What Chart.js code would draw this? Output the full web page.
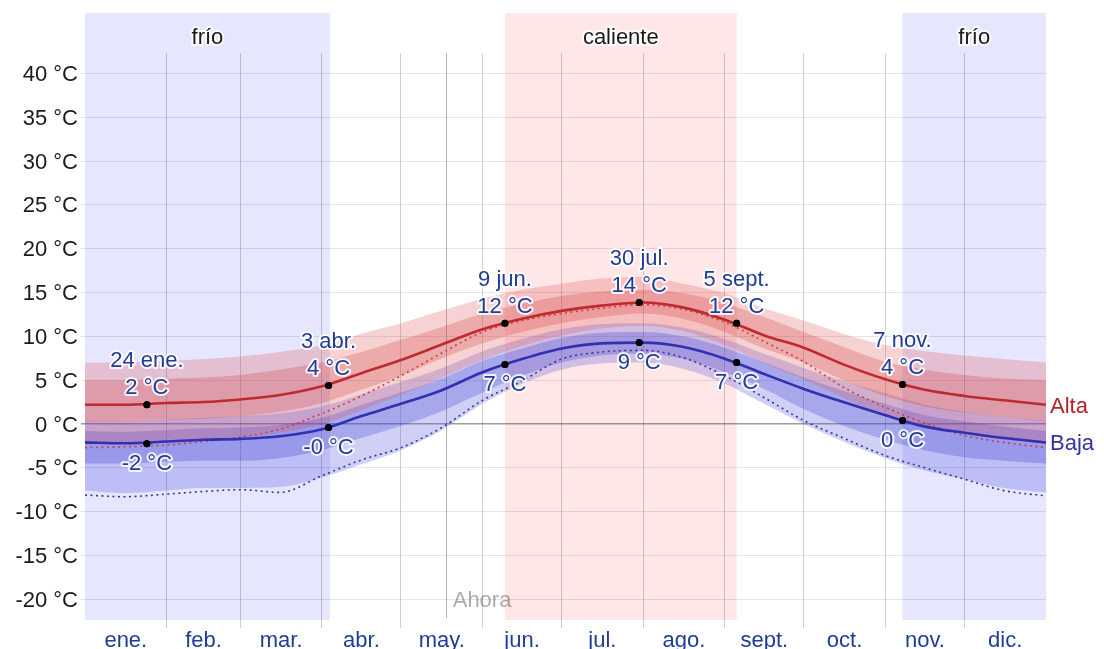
<!DOCTYPE html>
<html>
<head>
<meta charset="utf-8">
<title>Temperatura media alta y baja</title>
<script src="https://cdn.jsdelivr.net/npm/chart.js@4/dist/chart.umd.min.js"></script>
<style>
html,body{margin:0;padding:0;background:#fff;}
#wrap{width:1104px;height:649px;position:relative;}
</style>
</head>
<body>
<div id="wrap"><canvas id="chart"></canvas></div>
<script>
// sample days (day of year, 0 = 1 ene., 365 = 31 dic.)
const days = [0,15,31,45,59,74,90,105,120,135,151,166,181,196,212,227,243,258,273,288,304,319,334,349,365];

// average daily high / low (°C)
const high = [2.2,2.2,2.4,2.5,2.8,3.3,4.3,5.8,7.3,9.0,10.8,12.0,12.9,13.5,13.85,13.3,11.9,10.1,8.7,6.8,5.1,3.9,3.2,2.7,2.2];
const low  = [-2.1,-2.2,-2.0,-1.8,-1.7,-1.4,-0.6,0.9,2.3,3.8,5.9,7.4,8.6,9.2,9.28,8.8,7.45,5.7,4.0,2.5,1.0,-0.3,-1.0,-1.6,-2.1];

// percentile bands
const highP90 = [7.0,7.0,7.2,7.4,7.7,8.2,9.0,10.3,11.5,12.9,14.3,15.3,16.0,16.6,16.8,16.0,14.9,13.2,11.8,10.3,9.0,8.3,7.8,7.4,7.0];
const highP75 = [5.0,5.0,5.2,5.3,5.6,6.2,7.0,8.2,9.6,11.0,12.6,13.7,14.6,15.1,15.3,14.9,13.8,12.2,10.5,8.8,7.1,6.2,5.6,5.2,5.0];
const highP25 = [0.3,0.3,0.5,0.6,0.9,1.4,2.4,3.9,5.5,7.4,9.2,10.5,11.5,12.2,12.6,12.0,10.5,8.6,7.0,5.0,3.2,2.0,1.3,0.8,0.3];
const highP10 = [-2.3,-2.3,-2.0,-1.8,-1.5,-1.0,0.0,1.6,3.3,5.2,7.3,8.9,10.1,10.9,11.2,10.6,9.0,6.9,5.1,3.0,1.0,-0.3,-1.1,-1.7,-2.3];
const lowP90  = [0.4,0.3,0.5,0.7,0.9,1.2,2.0,3.4,4.8,6.3,8.3,9.7,10.8,11.4,11.5,11.0,9.7,8.0,6.4,4.9,3.5,2.2,1.4,0.8,0.4];
const lowP75  = [-0.8,-0.9,-0.7,-0.5,-0.4,-0.1,0.7,2.2,3.6,5.1,7.2,8.6,9.8,10.4,10.5,10.0,8.7,7.0,5.3,3.8,2.3,1.0,0.3,-0.3,-0.8];
const lowP25  = [-4.5,-4.5,-4.3,-4.2,-4.2,-3.9,-3.0,-1.6,-0.2,1.4,3.6,5.5,7.0,7.8,8.0,7.4,5.9,4.0,1.7,-0.2,-1.8,-3.0,-3.8,-4.2,-4.5];
const lowP10  = [-7.6,-7.9,-7.6,-7.3,-7.3,-7.2,-6.1,-4.6,-3.0,-0.8,2.3,4.6,6.2,6.9,7.0,6.3,4.6,2.3,0.0,-2.0,-3.9,-5.3,-6.3,-7.3,-7.8];

// perceived temperature (dotted)
const feelsHigh = [-2.7,-2.6,-2.4,-2.0,-1.5,-0.6,1.2,3.2,5.5,8.0,10.5,11.8,12.6,13.2,13.6,13.1,11.6,9.4,7.1,4.2,1.9,0.1,-1.3,-2.1,-2.7];
const feelsLow  = [-8.1,-8.3,-8.0,-7.7,-7.5,-7.8,-5.9,-4.1,-2.7,-0.5,2.7,4.9,7.4,8.2,8.4,7.6,5.5,3.0,0.4,-1.6,-3.6,-5.0,-6.3,-7.6,-8.2];

// labelled days
const annotDays = [23.5,92.5,159.5,210.5,247.5,310.5];
const annotDate = ['24 ene.','3 abr.','9 jun.','30 jul.','5 sept.','7 nov.'];
const annotHigh = [2.2,4.4,11.5,13.85,11.5,4.5];
const annotLow  = [-2.25,-0.4,6.8,9.3,7.0,0.4];
const annotHighText = ['2 °C','4 °C','12 °C','14 °C','12 °C','4 °C'];
const annotLowText  = ['-2 °C','-0 °C','7 °C','9 °C','7 °C','0 °C'];

// seasons
const seasonNames = ['frío','caliente','frío'];
const seasonStart = [0,159.5,310.5];
const seasonEnd   = [93,247.5,365];

// axes
const monthStarts = [31,59,90,120,151,181,212,243,273,304,334];
const monthMids = [15.5,45,74.5,105,135.5,166,196.5,227.5,258,288.5,319,349.5];
const monthNames = ['ene.','feb.','mar.','abr.','may.','jun.','jul.','ago.','sept.','oct.','nov.','dic.'];
const yTicks = [-20,-15,-10,-5,0,5,10,15,20,25,30,35,40];
const nowDay = 137;

const FONT = '"Liberation Sans", Arial, sans-serif';
const LABEL_BLUE = '#1f3c98';

function pts(arr){ return days.map((d,i)=>({x:d, y:arr[i]})); }

function band(arr, color, target){
  return {data:pts(arr), borderWidth:0, pointRadius:0, backgroundColor:color,
    fill: target===undefined ? false : {target}, tension:0.4, cubicInterpolationMode:'monotone'};
}

function haloText(ctx, t, x, y, color){
  ctx.lineJoin='round'; ctx.lineWidth=4; ctx.strokeStyle='rgba(255,255,255,0.85)';
  ctx.strokeText(t,x,y); ctx.fillStyle=color; ctx.fillText(t,x,y);
}

const overlay = {
  id:'overlay',
  beforeDraw(chart){
    const {ctx, chartArea, scales:{x}} = chart;
    ctx.save();
    ctx.font = '22px '+FONT; ctx.textAlign='center'; ctx.textBaseline='alphabetic';
    seasonNames.forEach((n,i)=>{
      const x0 = x.getPixelForValue(seasonStart[i]), x1 = x.getPixelForValue(seasonEnd[i]);
      ctx.fillStyle = n==='frío' ? '#e6e6ff' : '#ffe7e7';
      ctx.fillRect(x0, 13, x1-x0, chartArea.bottom-13);
      haloText(ctx, n, (x0+x1)/2, 44, '#1a1a1a');
    });
    ctx.restore();
  },
  beforeDatasetsDraw(chart){
    const {ctx, chartArea, scales:{x}} = chart;
    const xp = Math.round(x.getPixelForValue(nowDay))+0.5;
    ctx.save();
    ctx.strokeStyle='rgba(0,0,0,0.3)'; ctx.lineWidth=1;
    ctx.beginPath(); ctx.moveTo(xp, chartArea.top); ctx.lineTo(xp, chartArea.bottom-2); ctx.stroke();
    ctx.restore();
  },
  afterDraw(chart){
    const {ctx, chartArea, scales:{x}} = chart;
    ctx.save();
    ctx.font = '22px '+FONT; ctx.textBaseline='alphabetic'; ctx.textAlign='center';
    const hm = chart.getDatasetMeta(0).data, lm = chart.getDatasetMeta(1).data;
    annotDays.forEach((d,i)=>{
      const h = hm[i], l = lm[i];
      haloText(ctx, annotHighText[i], h.x, h.y-10.6, LABEL_BLUE);
      haloText(ctx, annotDate[i], h.x, h.y-37.6, LABEL_BLUE);
      haloText(ctx, annotLowText[i], l.x, l.y+26.4, LABEL_BLUE);
    });
    // redraw dots above the text halos
    [hm,lm].forEach(arr=>arr.forEach(p=>{ ctx.fillStyle='#000'; ctx.beginPath(); ctx.arc(p.x,p.y,3.5,0,Math.PI*2); ctx.fill(); }));
    // series names at right end
    ctx.textAlign='left';
    const hl = chart.getDatasetMeta(2).data, ll = chart.getDatasetMeta(3).data;
    ctx.fillStyle='#b3242b'; ctx.fillText('Alta', chartArea.right+4, hl[hl.length-1].y+8);
    ctx.fillStyle='#33339e'; ctx.fillText('Baja', chartArea.right+4, ll[ll.length-1].y+8);
    // "now" label
    ctx.fillStyle='rgba(0,0,0,0.33)';
    ctx.fillText('Ahora', x.getPixelForValue(nowDay)+7, 607);
    ctx.restore();
  }
};

const ctx = document.getElementById('chart').getContext('2d');
Chart.defaults.font.family = FONT;
Chart.defaults.font.size = 22;

new Chart(ctx, {
  type:'line',
  data:{datasets:[
    {data:annotDays.map((d,i)=>({x:d,y:annotHigh[i]})), showLine:false, pointRadius:3.5, pointBackgroundColor:'#000', pointBorderWidth:0},
    {data:annotDays.map((d,i)=>({x:d,y:annotLow[i]})), showLine:false, pointRadius:3.5, pointBackgroundColor:'#000', pointBorderWidth:0},
    {data:pts(high), borderColor:'#bf2a30', borderWidth:2.6, pointRadius:0, fill:false, tension:0.4, cubicInterpolationMode:'monotone'},
    {data:pts(low), borderColor:'#3030b0', borderWidth:2.6, pointRadius:0, fill:false, tension:0.4, cubicInterpolationMode:'monotone'},
    {data:pts(feelsHigh), borderColor:'#d23c3c', borderWidth:1.6, borderDash:[2,3.5], pointRadius:0, fill:false, tension:0.4, cubicInterpolationMode:'monotone'},
    {data:pts(feelsLow), borderColor:'#3434a8', borderWidth:1.6, borderDash:[2,3.5], pointRadius:0, fill:false, tension:0.4, cubicInterpolationMode:'monotone'},
    band(highP75, 'rgba(205,55,55,0.26)', 7),
    band(highP25),
    band(highP90, 'rgba(225,80,80,0.26)', 9),
    band(highP10),
    band(lowP75, 'rgba(55,55,205,0.27)', 11),
    band(lowP25),
    band(lowP90, 'rgba(80,80,225,0.27)', 13),
    band(lowP10)
  ]},
  options:{
    responsive:true, maintainAspectRatio:false, animation:false,
    layout:{padding:{top:53, right:58, left:0, bottom:0}},
    plugins:{legend:{display:false}, tooltip:{enabled:false}},
    scales:{
      x:{type:'linear', position:'bottom', min:0, max:365, weight:0,
        border:{display:false},
        grid:{color:'rgba(0,0,0,0.19)', lineWidth:1, tickLength:8, drawTicks:true},
        ticks:{display:false},
        afterBuildTicks:s=>{ s.ticks = monthStarts.map(v=>({value:v})); },
        afterFit:s=>{ s.height = 8; }
      },
      x2:{type:'linear', position:'bottom', min:0, max:365, weight:1,
        border:{display:false}, grid:{display:false, drawTicks:false},
        ticks:{color:LABEL_BLUE, maxRotation:0, autoSkip:false, padding:0, font:{size:22},
          callback:(v,i)=>monthNames[i]},
        afterBuildTicks:s=>{ s.ticks = monthMids.map(v=>({value:v})); },
        afterFit:s=>{ s.height = 21; }
      },
      y:{type:'linear', min:-22.36, max:42.32,
        border:{display:false},
        grid:{color:c=>c.tick && c.tick.value===0 ? 'rgba(0,0,0,0.38)' : 'rgba(0,0,0,0.1)',
          lineWidth:c=>c.tick && c.tick.value===0 ? 1.6 : 1, tickLength:4},
        ticks:{color:'#1a1a1a', padding:3, labelOffset:1.5, font:{size:22}, callback:v=>v+' °C'},
        afterBuildTicks:s=>{ s.ticks = yTicks.map(v=>({value:v})); },
        afterFit:s=>{ s.width = 85; }
      }
    }
  },
  plugins:[overlay]
});
</script>
</body>
</html>
